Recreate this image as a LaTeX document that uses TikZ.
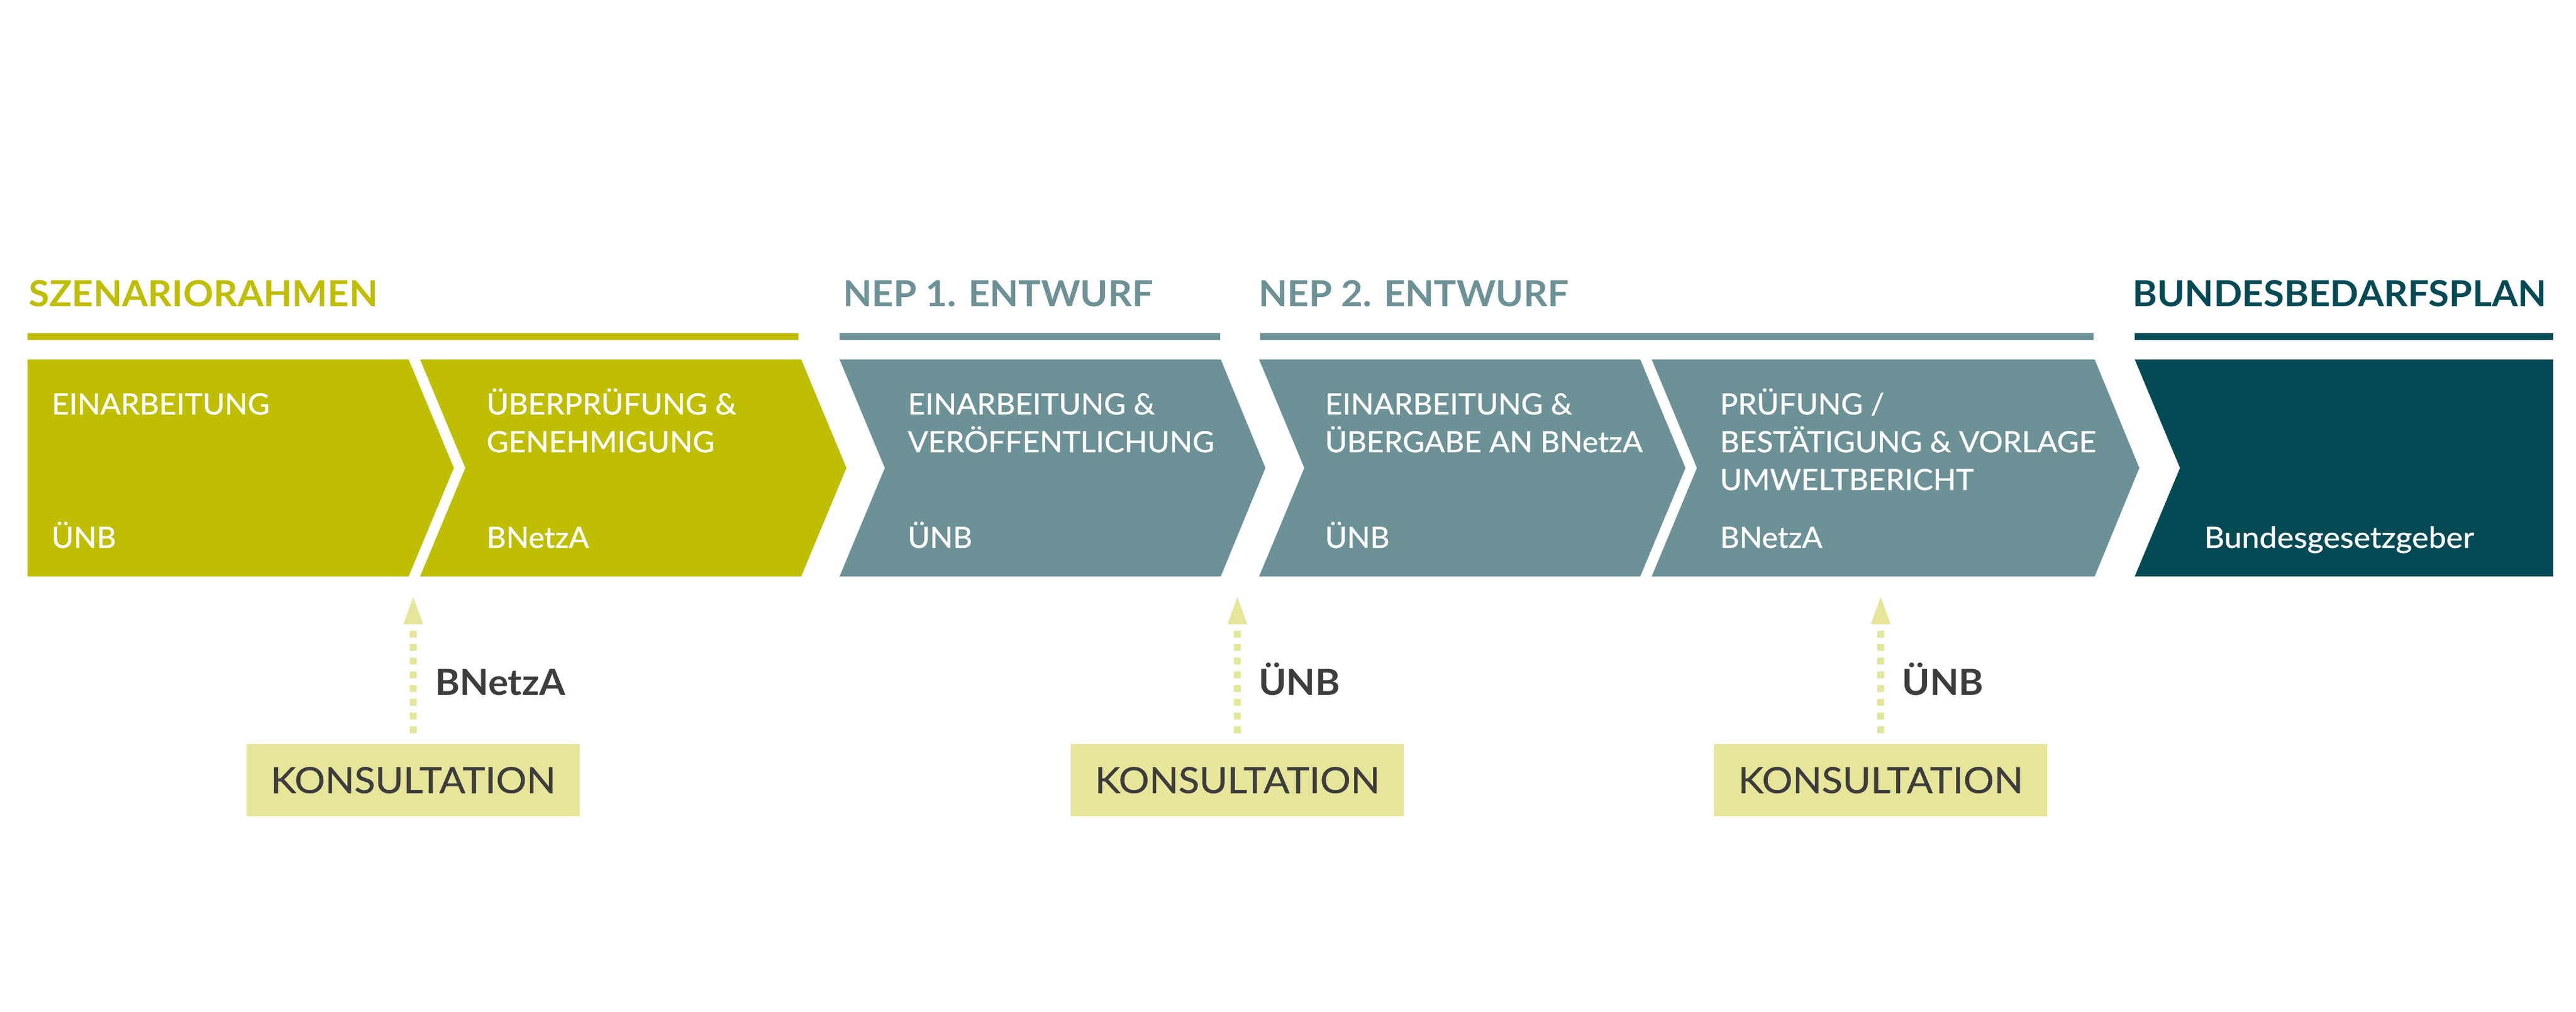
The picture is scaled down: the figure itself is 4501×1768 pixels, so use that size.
\documentclass[tikz,border=0pt]{standalone}
\usepackage{fontspec}
\setmainfont{Lato}
\newfontfamily\headfont{Lato}[FakeStretch=1.04]
\newfontfamily\chevfont{Lato}[FakeStretch=1.03,FakeBold=0.8]
\newfontfamily\widefont{Lato}[FakeStretch=1.08,FakeBold=0.8]
\newfontfamily\kfont{Lato}[FakeStretch=1.065,FakeBold=0.8]
\newfontfamily\lblfont{Lato}[FakeStretch=1.045]
\definecolor{cOlive}{RGB}{191,190,0}
\definecolor{cTeal}{RGB}{108,145,150}
\definecolor{cDark}{RGB}{3,74,85}
\definecolor{cPale}{RGB}{230,229,154}
\definecolor{cText}{RGB}{61,61,61}
\begin{document}
\begin{tikzpicture}[x=1bp,y=-1bp,
  head/.style={anchor=base west,inner sep=0pt,font=\headfont\fontsize{62.8bp}{70bp}\selectfont\bfseries},
  ctext/.style={anchor=base west,inner sep=0pt,text=white,font=\chevfont\fontsize{51bp}{66bp}\selectfont},
  blabel/.style={anchor=base west,inner sep=0pt,text=cText,font=\lblfont\fontsize{62.8bp}{70bp}\selectfont\bfseries},
  kbox/.style={fill=cPale,text=cText,inner sep=0pt,minimum width=582bp,minimum height=126bp,font=\kfont\fontsize{62.8bp}{70bp}\selectfont},
  dashconn/.style={draw=cPale,line width=12bp,dash pattern=on 12bp off 11.9bp},
  tiphead/.style={fill=cPale}]
\useasboundingbox (0,0) rectangle (4501,1768);

% headers
\node[head,text=cOlive] (h1) at (50,535) {SZENARIORAHMEN};
\node[head,text=cTeal]  (h2) at (1473,535) {NEP 1. ENTWURF};
\node[head,text=cTeal]  (h3) at (2199,535) {NEP 2. ENTWURF};
\node[head,text=cDark]  (h4) at (3726,535) {BUNDESBEDARFSPLAN};

% header bars
\fill[cOlive] (48,582) rectangle (1395,594);
\fill[cTeal]  (1467,582) rectangle (2132,594);
\fill[cTeal]  (2202,582) rectangle (3658,594);
\fill[cDark]  (3730,582) rectangle (4461,594);

% chevrons
\fill[cOlive] (48,628) -- (714,628) -- (793,817.5) -- (714,1007) -- (48,1007) -- cycle;
\fill[cOlive] (734,628) -- (1400,628) -- (1479,817.5) -- (1400,1007) -- (734,1007) -- (813,817.5) -- cycle;
\fill[cTeal]  (1467,628) -- (2133,628) -- (2211,817.5) -- (2133,1007) -- (1467,1007) -- (1546,817.5) -- cycle;
\fill[cTeal]  (2200,628) -- (2866,628) -- (2945,817.5) -- (2866,1007) -- (2200,1007) -- (2279,817.5) -- cycle;
\fill[cTeal]  (2886,628) -- (3660,628) -- (3738,817.5) -- (3660,1007) -- (2886,1007) -- (2965,817.5) -- cycle;
\fill[cDark]  (3730,628) -- (4461,628) -- (4461,1007) -- (3730,1007) -- (3809,817.5) -- cycle;

% chevron texts
\node[ctext] (t1) at (90,724)   {\parbox[t]{640bp}{\raggedright EINARBEITUNG}};
\node[ctext] (t2) at (850,724)  {\parbox[t]{640bp}{\raggedright ÜBERPRÜFUNG \&\\GENEHMIGUNG}};
\node[ctext] (t3) at (1586,724) {\parbox[t]{640bp}{\raggedright EINARBEITUNG \&\\VERÖFFENTLICHUNG}};
\node[ctext] (t4) at (2315,724) {\parbox[t]{640bp}{\raggedright EINARBEITUNG \&\\ÜBERGABE AN BNetzA}};
\node[ctext] (t5) at (3005,724) {\parbox[t]{740bp}{\raggedright PRÜFUNG /\\BESTÄTIGUNG \& VORLAGE\\UMWELTBERICHT}};

\node[ctext] (r1) at (90,957)   {ÜNB};
\node[ctext] (r2) at (850,957)  {BNetzA};
\node[ctext] (r3) at (1586,957) {ÜNB};
\node[ctext] (r4) at (2315,957) {ÜNB};
\node[ctext] (r5) at (3005,957) {BNetzA};
\node[ctext,font=\widefont\fontsize{51bp}{66bp}\selectfont] (r6) at (3851,957) {Bundesgesetzgeber};

% consultation boxes
\node[kbox] (k1) at (722,1363)  {KONSULTATION};
\node[kbox] (k2) at (2162,1363) {KONSULTATION};
\node[kbox] (k3) at (3286,1363) {KONSULTATION};

% arrow tips (free ends)
\coordinate (a1) at (722,1043);
\coordinate (a2) at (2162,1043);
\coordinate (a3) at (3286,1043);

% dashed connectors
\draw[dashconn] ([yshift=19bp]k1.north) -- ([yshift=-58.5bp]a1);
\draw[dashconn] ([yshift=19bp]k2.north) -- ([yshift=-58.5bp]a2);
\draw[dashconn] ([yshift=19bp]k3.north) -- ([yshift=-58.5bp]a3);
\fill[tiphead] (a1) -- ++(17.25,47.5) -- ++(-34.5,0) -- cycle;
\fill[tiphead] (a2) -- ++(17.25,47.5) -- ++(-34.5,0) -- cycle;
\fill[tiphead] (a3) -- ++(17.25,47.5) -- ++(-34.5,0) -- cycle;

% labels
\node[blabel] (b1) at (760,1214)  {BNetzA};
\node[blabel] (b2) at (2199,1214) {ÜNB};
\node[blabel] (b3) at (3323,1214) {ÜNB};
\end{tikzpicture}
\end{document}
